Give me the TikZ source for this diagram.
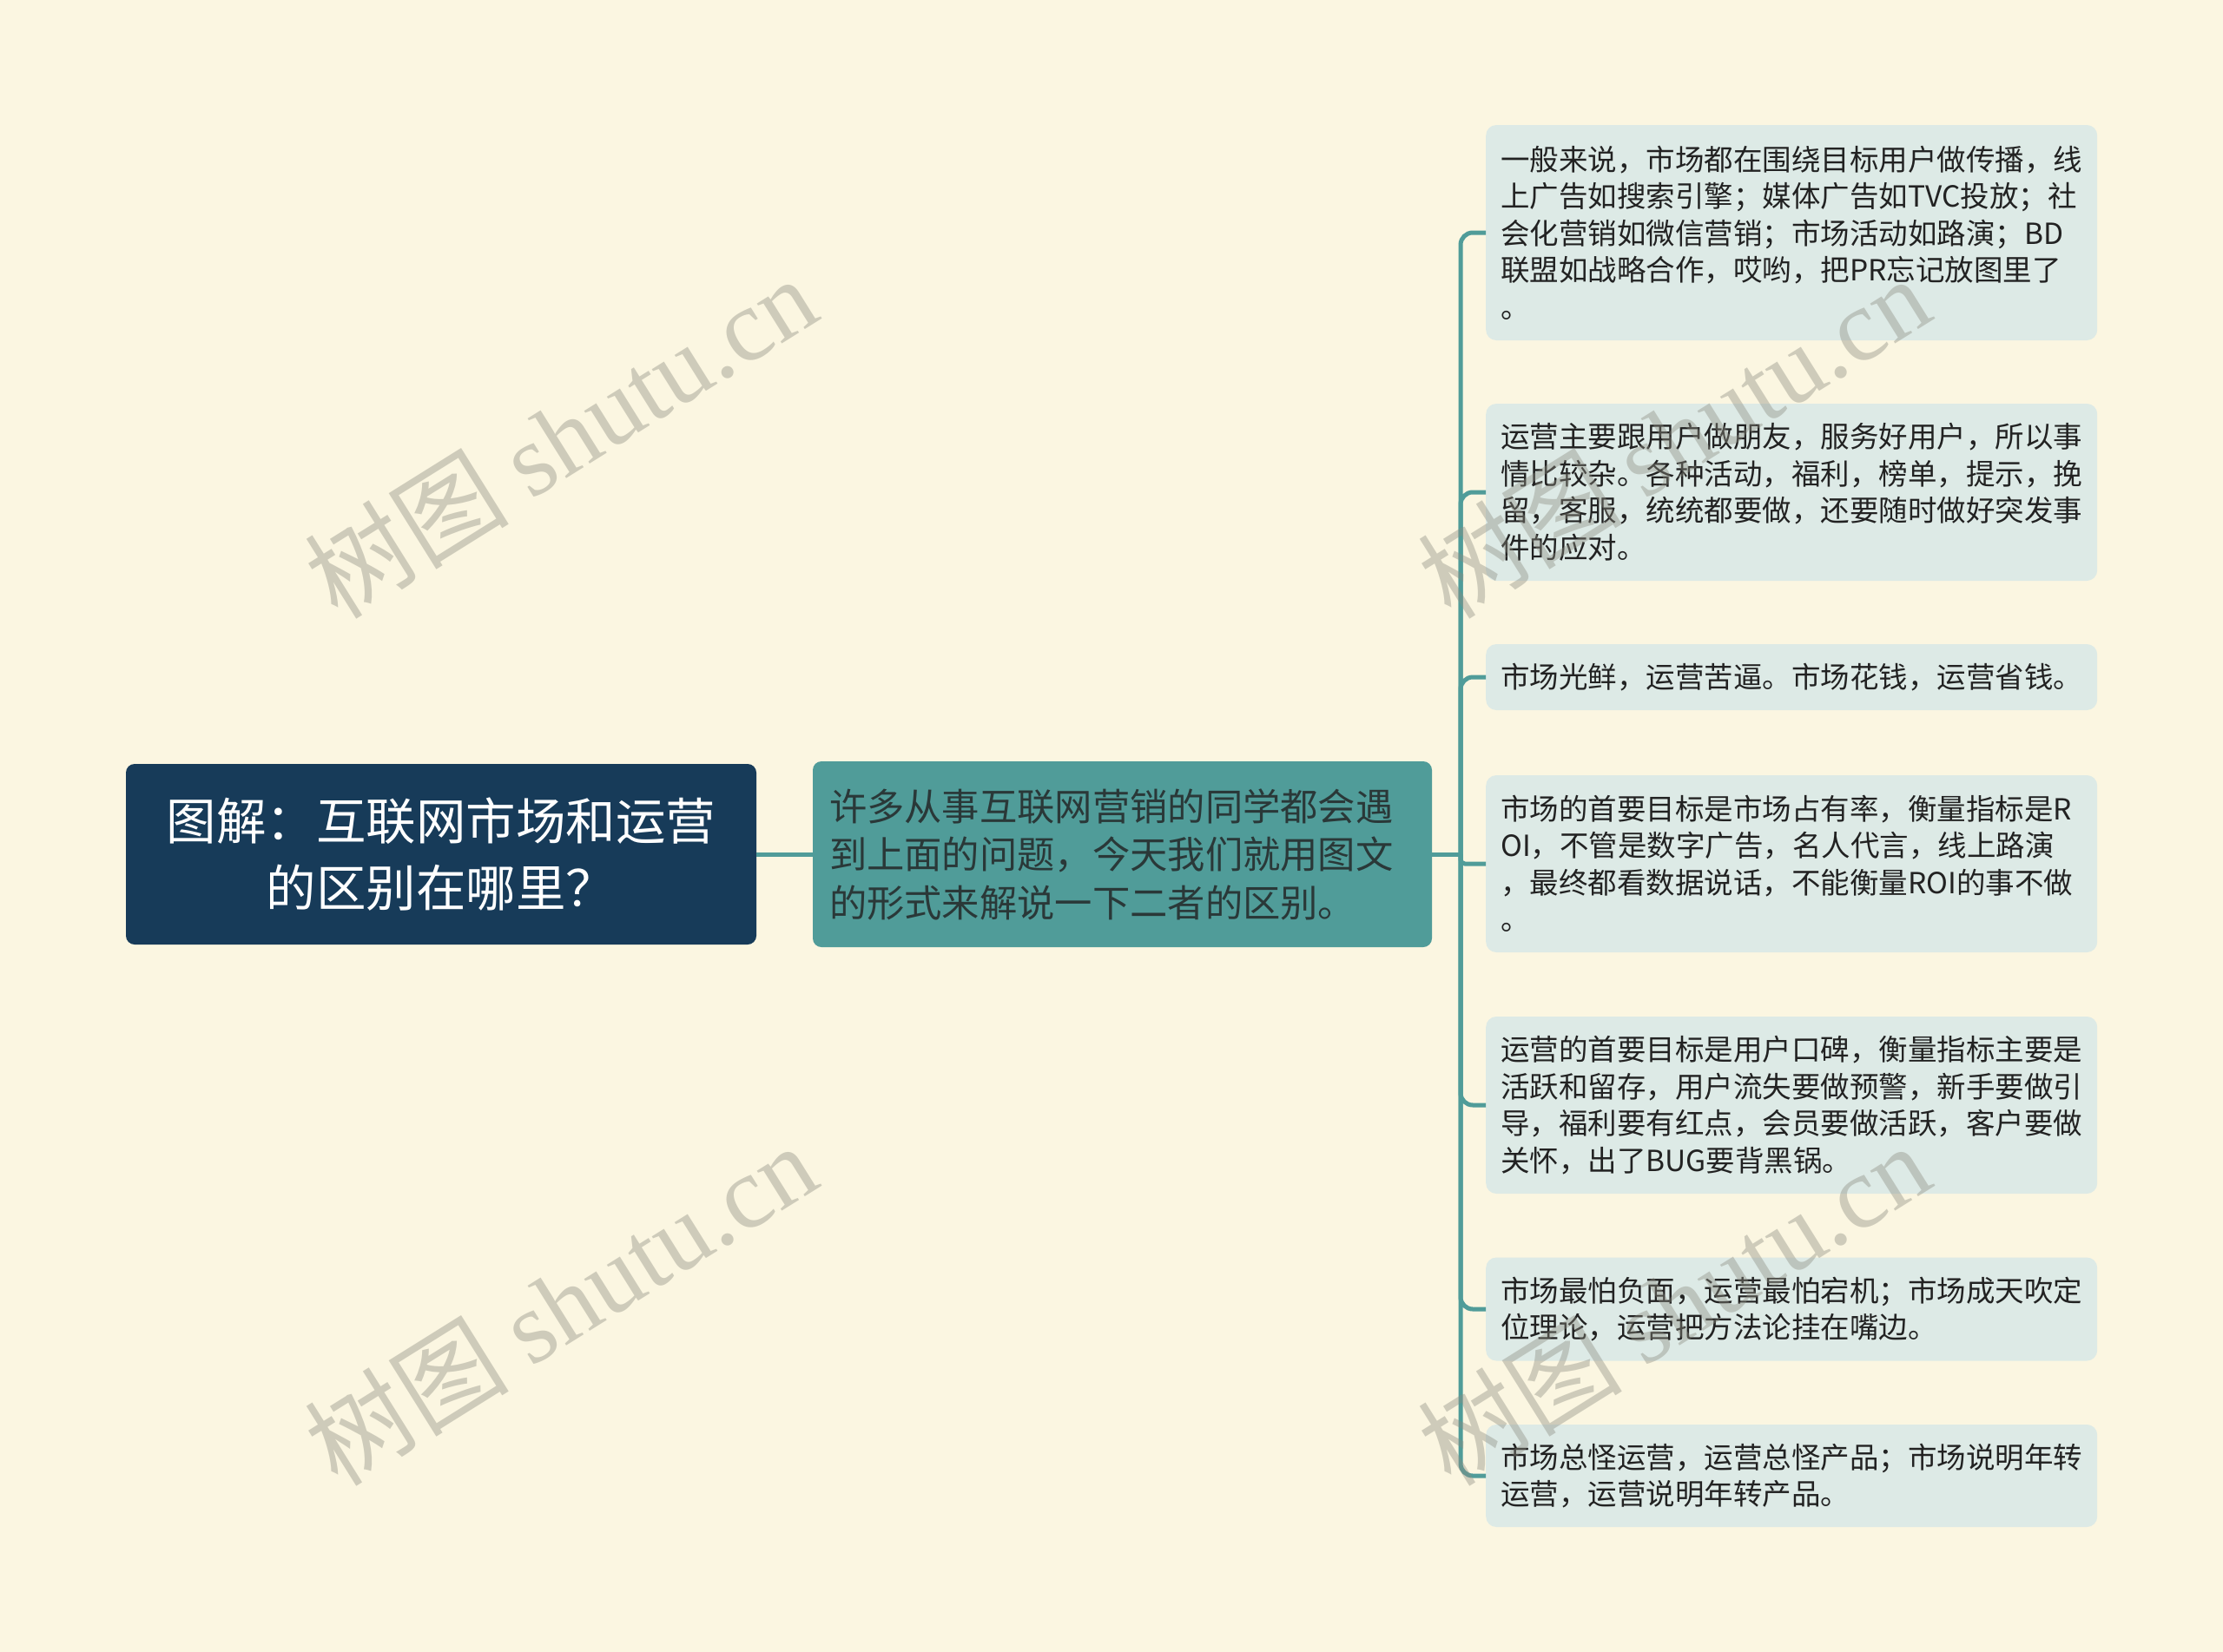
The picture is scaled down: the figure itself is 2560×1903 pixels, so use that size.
\documentclass[tikz,border=0pt]{standalone}
\usepackage{fontspec}
\setmainfont{Noto Sans CJK SC}
\newfontfamily\wmserif{Liberation Serif}
\definecolor{bg}{HTML}{FBF6E1}
\definecolor{rootc}{HTML}{173B59}
\definecolor{midc}{HTML}{509C99}
\definecolor{midtext}{HTML}{2A3838}
\definecolor{leafc}{HTML}{DDEAE6}
\definecolor{linec}{HTML}{509C99}
\definecolor{leaftext}{HTML}{222222}
\definecolor{wmc}{HTML}{8C8C80}
\begin{document}
\begin{tikzpicture}[x=1pt,y=-1pt,
  rootbox/.style={fill=rootc, rounded corners=10pt, text=white, align=center,
    minimum width=726pt, minimum height=208pt, inner sep=0pt,
    font=\fontsize{57.5}{76.7}\selectfont},
  midbox/.style={fill=midc, rounded corners=10pt, text=midtext, align=left,
    text width=675pt, inner xsep=19pt, inner ysep=0pt, minimum height=214pt,
    font=\fontsize{43.3}{55.5}\selectfont},
  leafbox/.style={fill=leafc, rounded corners=12pt, text=leaftext, align=left,
    text width=670pt, inner xsep=17pt, inner ysep=0pt, anchor=west,
    font=\fontsize{33.5}{42.5}\selectfont},
  link/.style={draw=linec, line width=5pt},
  wm/.style={rotate=32, text=wmc, opacity=0.4, font=\fontsize{118}{118}\selectfont},
]
\useasboundingbox (0,0) rectangle (2560,1903);
\fill[bg] (0,0) rectangle (2560,1903);

\node[rootbox] (root) at (508,984) {图解：互联网市场和运营\\的区别在哪里？};
\node[midbox] (mid) at (1292.5,984) {许多从事互联网营销的同学都会遇\\到上面的问题，今天我们就用图文\\的形式来解说一下二者的区别。};

\node[leafbox, minimum height=248pt] (l1) at (1711,268) {一般来说，市场都在围绕目标用户做传播，线\\上广告如搜索引擎；媒体广告如TVC投放；社\\会化营销如微信营销；市场活动如路演；BD\\联盟如战略合作，哎哟，把PR忘记放图里了\\。};
\node[leafbox, minimum height=204pt] (l2) at (1711,567) {运营主要跟用户做朋友，服务好用户，所以事\\情比较杂。各种活动，福利，榜单，提示，挽\\留，客服，统统都要做，还要随时做好突发事\\件的应对。};
\node[leafbox, minimum height=76pt] (l3) at (1711,780) {市场光鲜，运营苦逼。市场花钱，运营省钱。};
\node[leafbox, minimum height=204pt] (l4) at (1711,995) {市场的首要目标是市场占有率，衡量指标是R\\OI，不管是数字广告，名人代言，线上路演\\，最终都看数据说话，不能衡量ROI的事不做\\。};
\node[leafbox, minimum height=204pt] (l5) at (1711,1273) {运营的首要目标是用户口碑，衡量指标主要是\\活跃和留存，用户流失要做预警，新手要做引\\导，福利要有红点，会员要做活跃，客户要做\\关怀，出了BUG要背黑锅。};
\node[leafbox, minimum height=119pt] (l6) at (1711,1508) {市场最怕负面，运营最怕宕机；市场成天吹定\\位理论，运营把方法论挂在嘴边。};
\node[leafbox, minimum height=118pt] (l7) at (1711,1700) {市场总怪运营，运营总怪产品；市场说明年转\\运营，运营说明年转产品。};

\coordinate (sp) at (1682,984);
\draw[link] (root.east) -- (mid.west);
\draw[link] (mid.east) -- (sp);
\foreach \n in {l1,l2,l3,l5,l6,l7}{
  \draw[link, rounded corners=14pt] (sp) |- (\n.west);
}
\draw[link, rounded corners=5pt] (sp) |- (l4.west);

\node[wm] (wm1) at (645,503) {树图 {\wmserif shutu.cn}};
\node[wm] (wm2) at (645,1502) {树图 {\wmserif shutu.cn}};
\node[wm] (wm3) at (1927,503) {树图 {\wmserif shutu.cn}};
\node[wm] (wm4) at (1927,1502) {树图 {\wmserif shutu.cn}};
\end{tikzpicture}
\end{document}
